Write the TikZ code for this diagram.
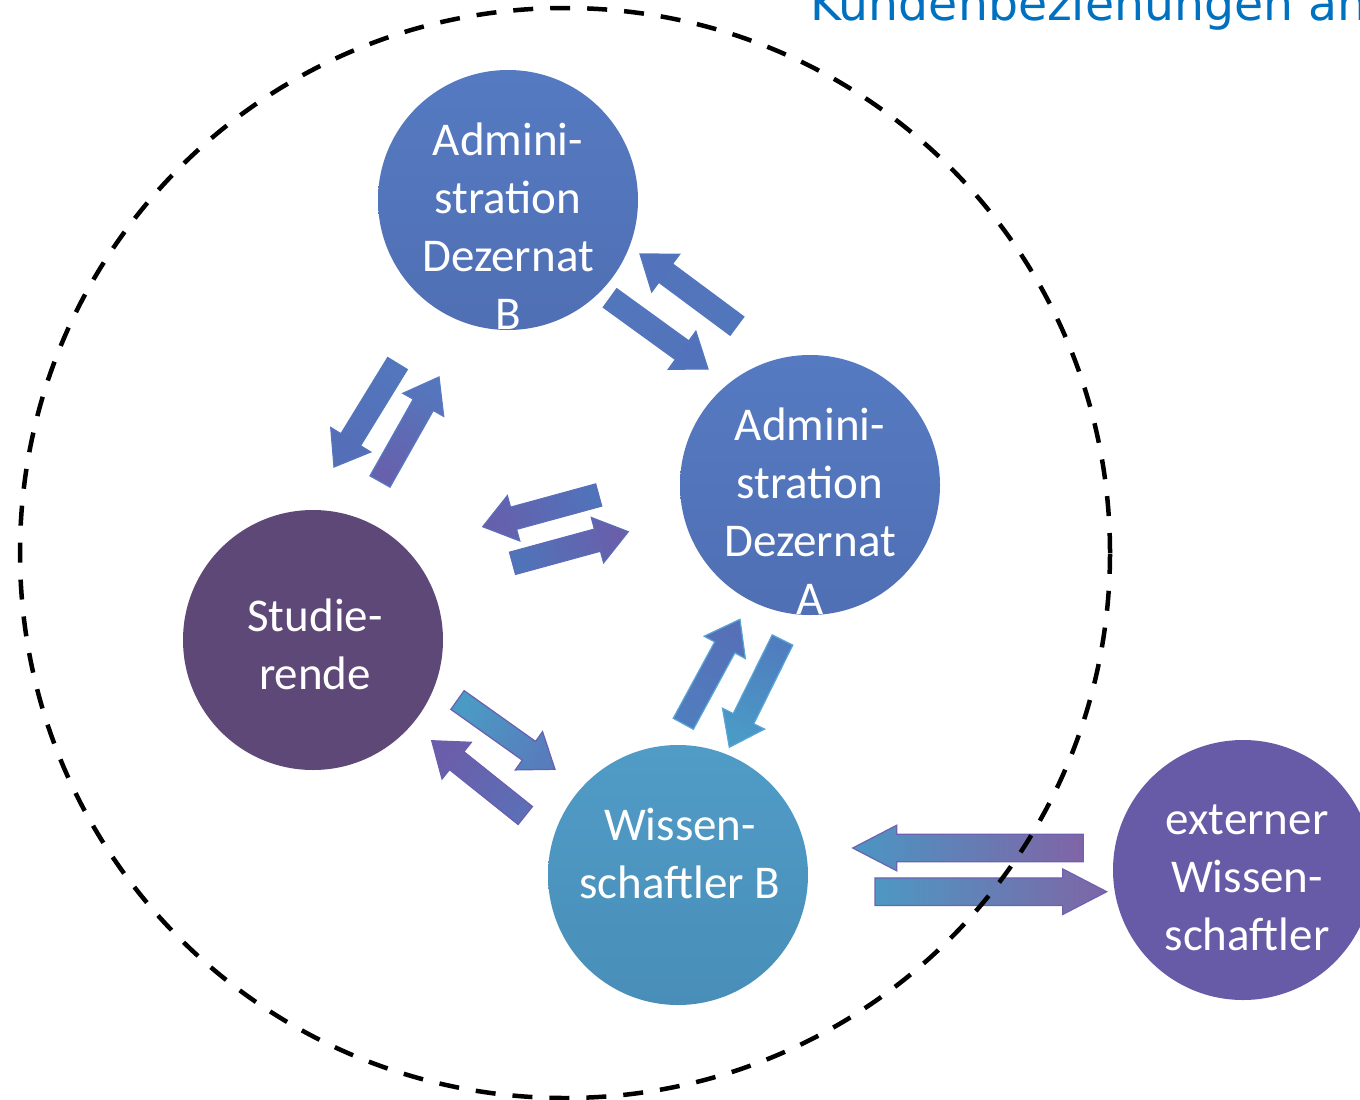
\documentclass[tikz,border=0pt]{standalone}
\usepackage{fontspec}
\setmainfont{Carlito}
\newfontfamily\titlefont{DejaVu Sans}
\usetikzlibrary{calc}
\definecolor{titleblue}{RGB}{0,112,192}
\definecolor{admtop}{RGB}{85,122,193}
\definecolor{admbot}{RGB}{80,111,180}
\definecolor{studc}{RGB}{94,72,120}
\definecolor{wisstop}{RGB}{80,156,199}
\definecolor{wissbot}{RGB}{72,142,184}
\definecolor{extc}{RGB}{103,91,167}
\newcommand\blockarr[6]{%
  \coordinate (nk) at ($(#2)!#5!(#1)$);
  \path[#6] ($(#1)!#3!90:(#2)$) -- ($(nk)!#3!-90:(#1)$) -- ($(nk)!#4!-90:(#1)$) -- (#2)
    -- ($(nk)!#4!90:(#1)$) -- ($(nk)!#3!90:(#1)$) -- ($(#1)!#3!-90:(#2)$) -- cycle;
}
\begin{document}
\begin{tikzpicture}[x=1pt,y=-1pt,
  bubble/.style={circle, minimum size=260pt, inner sep=0pt, draw=none},
  bubbletext/.style={text=white, align=center, inner sep=0pt, font=\fontsize{47}{58}\selectfont},
  arr/.style={line width=1.2pt}]
\useasboundingbox (0,0) rectangle (1360,1100);
\clip (0,0) rectangle (1360,1100);

% circles
\node[bubble, top color=admtop, bottom color=admbot] (ab) at (508,200) {};
\node[bubble, top color=admtop, bottom color=admbot] (aa) at (810,485) {};
\node[bubble, fill=studc] (st) at (313,640) {};
\node[bubble, top color=wisstop, bottom color=wissbot] (wb) at (678,875) {};
\node[bubble, fill=extc] (ex) at (1243,870) {};

\node[bubbletext] (abt) at (508,226.5) {Admini-\\stration\\Dezernat\\B};
\node[bubbletext] (aat) at (810,511.5) {Admini-\\stration\\Dezernat\\A};
\node[bubbletext] (stt) at (315,644) {Studie-\\rende};
\node[bubbletext] (wbt) at (680,853.5) {Wissen-\\schaftler B};
\node[bubbletext] (ext) at (1247,877.5) {externer\\Wissen-\\schaftler};

% arrow end points
\coordinate (t1) at (737,326);   \coordinate (h1) at (640,254);
\coordinate (t2) at (610,298);   \coordinate (h2) at (708,369);
\coordinate (t3) at (397.5,363.5); \coordinate (h3) at (334,467);
\coordinate (t4) at (380,481.5); \coordinate (h4) at (439,377);
\coordinate (t5) at (598.7,495); \coordinate (h5) at (482.7,526.7);
\coordinate (t6) at (512.5,563.3); \coordinate (h6) at (628.3,531.7);
\coordinate (t7) at (457.5,700); \coordinate (h7) at (555,769.3);
\coordinate (t8) at (525.3,815.5); \coordinate (h8) at (431.7,740.7);
\coordinate (t9) at (683.3,723.8); \coordinate (h9) at (740,619.3);
\coordinate (t10) at (782.5,640); \coordinate (h10) at (729.3,747.3);
\coordinate (t11) at (1083.3,848); \coordinate (h11) at (852.7,848);
\coordinate (t12) at (875,891.7); \coordinate (h12) at (1106.7,891.7);

\blockarr{t1}{h1}{11.5pt}{23.5pt}{32pt}{arr, top color={rgb,255:red,82;green,118;blue,188}, bottom color={rgb,255:red,82;green,115;blue,187}, shading angle=233.4, draw={rgb,255:red,84;green,118;blue,190}}
\blockarr{t2}{h2}{11.5pt}{23.5pt}{32pt}{arr, top color={rgb,255:red,82;green,118;blue,188}, bottom color={rgb,255:red,82;green,115;blue,187}, shading angle=54.1, draw={rgb,255:red,84;green,118;blue,190}}
\blockarr{t3}{h3}{11.5pt}{23.5pt}{32pt}{arr, top color={rgb,255:red,83;green,118;blue,188}, bottom color={rgb,255:red,84;green,110;blue,183}, shading angle=-31.5, draw={rgb,255:red,84;green,118;blue,190}}
\blockarr{t4}{h4}{11.5pt}{23.5pt}{32pt}{arr, top color={rgb,255:red,103;green,96;blue,172}, bottom color={rgb,255:red,85;green,118;blue,188}, shading angle=150.5, draw={rgb,255:red,88;green,122;blue,196}}
\blockarr{t5}{h5}{11.5pt}{23.5pt}{32pt}{arr, top color={rgb,255:red,80;green,115;blue,186}, bottom color={rgb,255:red,103;green,95;blue,172}, shading angle=-74.7, draw={rgb,255:red,90;green,110;blue,186}}
\blockarr{t6}{h6}{11.5pt}{23.5pt}{32pt}{arr, top color={rgb,255:red,79;green,116;blue,185}, bottom color={rgb,255:red,106;green,94;blue,170}, shading angle=105.3, draw={rgb,255:red,92;green,108;blue,184}}
\blockarr{t7}{h7}{11.5pt}{23.5pt}{32pt}{arr, top color={rgb,255:red,74;green,155;blue,196}, bottom color={rgb,255:red,88;green,125;blue,188}, shading angle=54.6, draw={rgb,255:red,106;green,95;blue,175}}
\blockarr{t8}{h8}{11.5pt}{23.5pt}{32pt}{arr, top color={rgb,255:red,92;green,110;blue,182}, bottom color={rgb,255:red,106;green,94;blue,170}, shading angle=231.4, draw={rgb,255:red,106;green,95;blue,175}}
\blockarr{t9}{h9}{11.5pt}{23.5pt}{32pt}{arr, top color={rgb,255:red,80;green,125;blue,190}, bottom color={rgb,255:red,86;green,112;blue,184}, shading angle=151.5, draw={rgb,255:red,90;green,165;blue,215}}
\blockarr{t10}{h10}{11.5pt}{23.5pt}{32pt}{arr, top color={rgb,255:red,80;green,125;blue,190}, bottom color={rgb,255:red,74;green,154;blue,198}, shading angle=-26.4, draw={rgb,255:red,90;green,165;blue,215}}
\blockarr{t11}{h11}{13.8pt}{22.8pt}{44pt}{arr, top color={rgb,255:red,128;green,100;blue,166}, bottom color={rgb,255:red,74;green,150;blue,195}, shading angle=270, draw={rgb,255:red,110;green,98;blue,176}}
\blockarr{t12}{h12}{13.8pt}{22.8pt}{44pt}{arr, top color={rgb,255:red,77;green,152;blue,195}, bottom color={rgb,255:red,126;green,101;blue,166}, shading angle=90, draw={rgb,255:red,110;green,98;blue,176}}

% dashed boundary
\draw[line width=4.5pt, dash pattern=on 20pt off 17pt] (565,553) circle[radius=545pt];

% title (cut off at the top and right edge, as in the reference)
\node[anchor=base west, inner sep=0pt, text=titleblue, font=\titlefont\fontsize{47.3}{56}\selectfont] (title) at (810,20) {Kundenbeziehungen an};
\end{tikzpicture}
\end{document}
